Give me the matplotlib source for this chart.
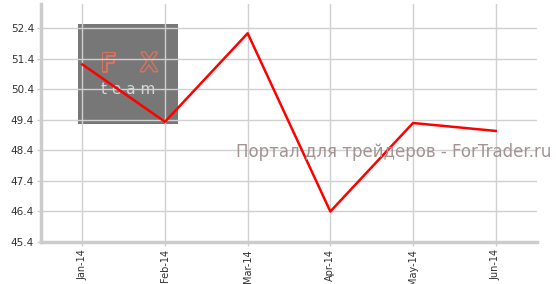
import numpy as np
import matplotlib.pyplot as plt
from matplotlib.patches import Rectangle
import matplotlib.patheffects as pe

# данные
months = ['Jan-14', 'Feb-14', 'Mar-14', 'Apr-14', 'May-14', 'Jun-14']
values = [51.22, 49.34, 52.24, 46.4, 49.3, 49.04]
yticks = [45.4, 46.4, 47.4, 48.4, 49.4, 50.4, 51.4, 52.4]

fig = plt.figure(figsize=(5.56, 2.84), dpi=100)
ax = fig.add_axes([41/556, 1 - 242/284, 496/556, 238/284])

x = np.arange(len(months))

# логотип (под линией и сеткой)
ax.add_patch(Rectangle((78/556, 1 - 124/284), 100/556, 100/284,
                       transform=fig.transFigure, facecolor='#777777',
                       edgecolor='none', zorder=0, clip_on=False))
for ch, px in [('F', 108), ('X', 149)]:
    t = ax.text(px/556, 1 - 64/284, ch, transform=fig.transFigure,
                color='#777777', fontsize=18, ha='center', va='center',
                zorder=1)
    t.set_path_effects([pe.withStroke(linewidth=2.2, foreground='#d9735f'),
                        pe.Normal()])
ax.text(128/556, 1 - 89/284, 't e a m', transform=fig.transFigure,
        color='#d8d8d8', fontsize=11, ha='center', va='center', zorder=1)

ax.set_facecolor('none')
ax.plot(x, values, color='red', linewidth=1.8, zorder=3)

ax.set_xlim(-0.5, 5.5)
ax.set_ylim(45.4, 53.2)
ax.set_xticks(x)
ax.set_xticklabels(months, rotation=90, fontsize=7)
ax.set_yticks(yticks)
ax.set_yticklabels([f'{v:.1f}' for v in yticks], fontsize=7.5)

ax.grid(True, color='#d0d0d0', linewidth=1, zorder=2)
for g in ax.get_xgridlines() + ax.get_ygridlines():
    g.set_zorder(2)

for s in ['top', 'right']:
    ax.spines[s].set_visible(False)
for s in ['left', 'bottom']:
    ax.spines[s].set_color('#cccccc')
    ax.spines[s].set_linewidth(2.5)
ax.tick_params(axis='both', colors='#cccccc', length=3, width=1,
               labelcolor='#333333', pad=2)

# водяной знак
fig.text(551/556, 1 - 152/284, 'Портал для трейдеров - ForTrader.ru',
         color='#a39393', fontsize=12, ha='right', va='center', zorder=4)

fig.savefig('out.png', dpi=100)
